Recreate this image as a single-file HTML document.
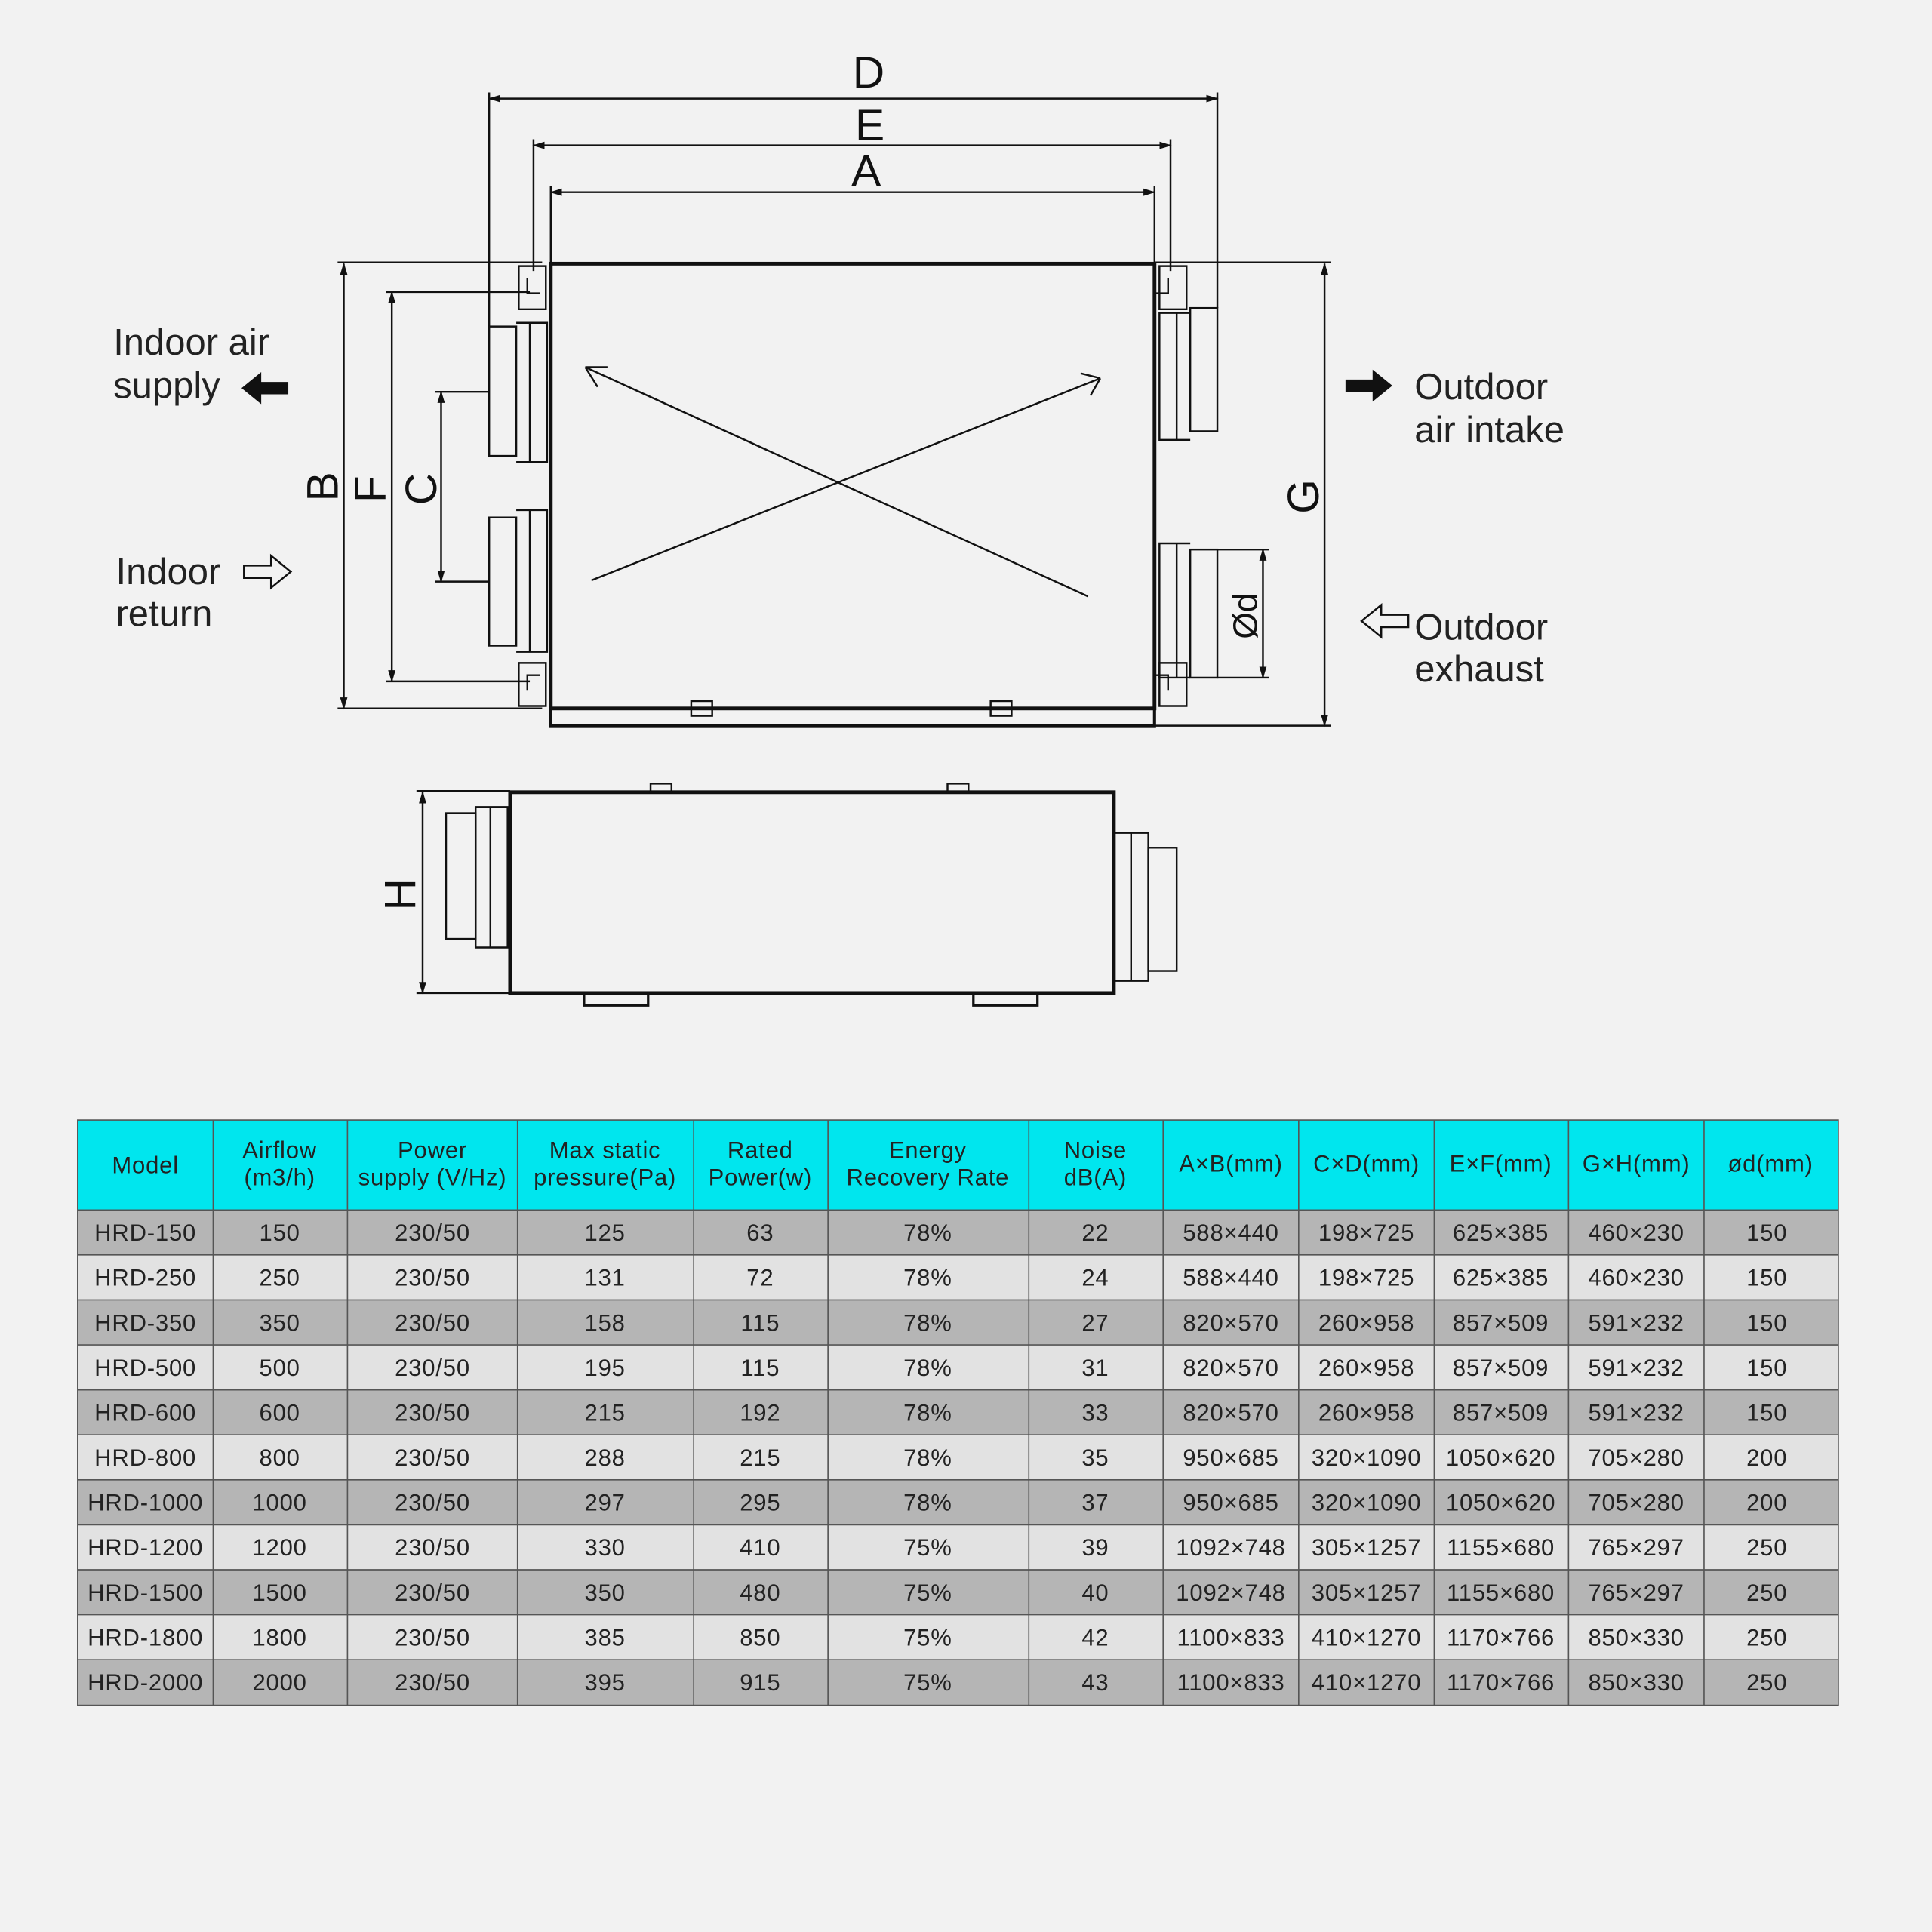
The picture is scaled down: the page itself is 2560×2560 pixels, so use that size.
<!DOCTYPE html>
<html><head><meta charset="utf-8"><style>
html,body{margin:0;padding:0;background:#f2f2f2}
svg{display:block}
</style></head><body>
<svg width="2560" height="2560" viewBox="0 0 1568 1568" xmlns="http://www.w3.org/2000/svg" font-family="Liberation Sans, sans-serif">
<rect width="1568" height="1568" fill="#f2f2f2"/>
<defs>
<marker id="ar" markerWidth="10" markerHeight="8" refX="9" refY="4" orient="auto" markerUnits="userSpaceOnUse"><path d="M0,1 L10,4 L0,7 Z" fill="#111"/></marker>
<marker id="al" markerWidth="10" markerHeight="8" refX="1" refY="4" orient="auto" markerUnits="userSpaceOnUse"><path d="M10,1 L0,4 L10,7 Z" fill="#111"/></marker>
</defs>
<g stroke="#111" fill="none" stroke-width="1.5">
<!-- top dims -->
<line x1="397" y1="80" x2="988" y2="80" marker-start="url(#al)" marker-end="url(#ar)"/>
<line x1="433" y1="118" x2="950" y2="118" marker-start="url(#al)" marker-end="url(#ar)"/>
<line x1="447" y1="156" x2="937" y2="156" marker-start="url(#al)" marker-end="url(#ar)"/>
<line x1="397" y1="75" x2="397" y2="265"/><line x1="988" y1="75" x2="988" y2="250"/>
<line x1="433" y1="113" x2="433" y2="220"/><line x1="950" y1="113" x2="950" y2="220"/>
<line x1="447" y1="151" x2="447" y2="214"/><line x1="937" y1="151" x2="937" y2="214"/>
<!-- main box -->
<rect x="447" y="214" width="490" height="361" stroke-width="3"/>
<rect x="447" y="575" width="490" height="14" stroke-width="2.5"/>
<rect x="561" y="569" width="17" height="12"/><rect x="804" y="569" width="17" height="12"/>
<line x1="475" y1="298" x2="883" y2="484"/><line x1="480" y1="471" x2="893" y2="307"/>
<path d="M475,298 l18,-0 M475,298 l10,16"/><path d="M893,307 l-16,-4 M893,307 l-8,14"/>
<!-- left dims -->
<line x1="279" y1="214" x2="279" y2="575" marker-start="url(#al)" marker-end="url(#ar)"/>
<line x1="274" y1="213" x2="440" y2="213"/><line x1="274" y1="575" x2="440" y2="575"/>
<line x1="318" y1="237" x2="318" y2="553" marker-start="url(#al)" marker-end="url(#ar)"/>
<line x1="313" y1="237" x2="430" y2="237"/><line x1="313" y1="553" x2="430" y2="553"/>
<line x1="358" y1="318" x2="358" y2="472" marker-start="url(#al)" marker-end="url(#ar)"/>
<line x1="353" y1="318" x2="397" y2="318"/><line x1="353" y1="472" x2="397" y2="472"/>
<!-- left ducts -->
<rect x="397" y="265" width="22" height="105"/><path d="M419,262 h25 v113 h-25"/><line x1="430" y1="262" x2="430" y2="375"/>
<rect x="397" y="420" width="22" height="104"/><path d="M419,414 h25 v115 h-25"/><line x1="430" y1="414" x2="430" y2="529"/>
<path d="M421,216 h22 v35 h-22 z M428,226 v12 h10 M421,538 h22 v35 h-22 z M428,560 v-12 h10"/>
<!-- right ducts -->
<rect x="966" y="250" width="22" height="100"/><path d="M966,254 h-25 v103 h25"/><line x1="955" y1="254" x2="955" y2="357"/>
<rect x="966" y="446" width="22" height="104"/><path d="M966,441 h-25 v109 h25"/><line x1="955" y1="441" x2="955" y2="550"/>
<path d="M941,216 h22 v35 h-22 z M948,226 v12 h-10 M941,538 h22 v35 h-22 z M948,560 v-12 h-10"/>
<line x1="1025" y1="446" x2="1025" y2="550" marker-start="url(#al)" marker-end="url(#ar)"/>
<line x1="988" y1="446" x2="1030" y2="446"/><line x1="988" y1="550" x2="1030" y2="550"/>
<line x1="1075" y1="214" x2="1075" y2="589" marker-start="url(#al)" marker-end="url(#ar)"/>
<line x1="937" y1="213" x2="1080" y2="213"/><line x1="937" y1="589" x2="1080" y2="589"/>
<!-- side view -->
<rect x="414" y="643" width="490" height="163" stroke-width="3"/>
<rect x="528" y="636" width="17" height="7"/><rect x="769" y="636" width="17" height="7"/>
<rect x="474" y="806" width="52" height="10" stroke-width="2"/><rect x="790" y="806" width="52" height="10" stroke-width="2"/>
<rect x="362" y="660" width="24" height="102"/><path d="M386,655 h26 v114 h-26 z"/><line x1="398" y1="655" x2="398" y2="769"/>
<rect x="932" y="688" width="23" height="100"/><path d="M904,676 h28 v120 h-28"/><line x1="918" y1="676" x2="918" y2="796"/>
<line x1="343" y1="643" x2="343" y2="806" marker-start="url(#al)" marker-end="url(#ar)"/>
<line x1="338" y1="642" x2="414" y2="642"/><line x1="338" y1="806" x2="414" y2="806"/>
<!-- arrows -->
<path d="M198,459 h22 v-8 l16,13 l-16,13 v-8 h-22 z"/>
<path d="M1143,499 h-22 v-8 l-16,13 l16,13 v-8 h22 z"/>
</g>
<path d="M234,310 h-22 v-8 l-16,13 l16,13 v-8 h22 z" fill="#111"/>
<path d="M1092,308 h22 v-8 l16,13 l-16,13 v-8 h-22 z" fill="#111"/>
<g fill="#111" font-size="36" text-anchor="middle">
<text x="705" y="71">D</text><text x="706" y="114">E</text><text x="703" y="151">A</text>
<text transform="translate(274,395) rotate(-90)">B</text>
<text transform="translate(313,397) rotate(-90)">F</text>
<text transform="translate(354,397) rotate(-90)">C</text>
<text transform="translate(1070,403) rotate(-90)">G</text>
<text transform="translate(337,726) rotate(-90)">H</text>
<text transform="translate(1020,500) rotate(-90)" font-size="28">Ød</text>
</g>
<g fill="#222" font-size="30">
<text x="92" y="288">Indoor air</text><text x="92" y="323">supply</text>
<text x="94" y="474">Indoor</text><text x="94" y="508">return</text>
<text x="1148" y="324">Outdoor</text><text x="1148" y="359">air intake</text>
<text x="1148" y="519">Outdoor</text><text x="1148" y="553">exhaust</text>
</g>
<!-- table -->
<rect x="63" y="909" width="1429" height="73" fill="#00e6ee"/>
<g id="rows">
<rect x="63" y="982" width="1429" height="36.5" fill="#b5b5b5"/>
<rect x="63" y="1018.5" width="1429" height="36.5" fill="#e2e2e2"/>
<rect x="63" y="1055" width="1429" height="36.5" fill="#b5b5b5"/>
<rect x="63" y="1091.5" width="1429" height="36.5" fill="#e2e2e2"/>
<rect x="63" y="1128" width="1429" height="36.5" fill="#b5b5b5"/>
<rect x="63" y="1164.5" width="1429" height="36.5" fill="#e2e2e2"/>
<rect x="63" y="1201" width="1429" height="36.5" fill="#b5b5b5"/>
<rect x="63" y="1237.5" width="1429" height="36.5" fill="#e2e2e2"/>
<rect x="63" y="1274" width="1429" height="36.5" fill="#b5b5b5"/>
<rect x="63" y="1310.5" width="1429" height="36.5" fill="#e2e2e2"/>
<rect x="63" y="1347" width="1429" height="37" fill="#b5b5b5"/>
</g>
<g stroke="#555" stroke-width="1">
<rect x="63" y="909" width="1429" height="475" fill="none"/>
<path d="M173,909V1384M282,909V1384M420,909V1384M563,909V1384M672,909V1384M835,909V1384M944,909V1384M1054,909V1384M1164,909V1384M1273,909V1384M1383,909V1384"/>
<path d="M63,982H1492M63,1018.5H1492M63,1055H1492M63,1091.5H1492M63,1128H1492M63,1164.5H1492M63,1201H1492M63,1237.5H1492M63,1274H1492M63,1310.5H1492M63,1347H1492"/>
</g>
<g fill="#222" font-size="19" text-anchor="middle" letter-spacing="0.5">
<text x="118" y="952">Model</text>
<text x="227" y="940">Airflow</text><text x="227" y="962">(m3/h)</text>
<text x="351" y="940">Power</text><text x="351" y="962">supply (V/Hz)</text>
<text x="491" y="940">Max static</text><text x="491" y="962">pressure(Pa)</text>
<text x="617" y="940">Rated</text><text x="617" y="962">Power(w)</text>
<text x="753" y="940">Energy</text><text x="753" y="962">Recovery Rate</text>
<text x="889" y="940">Noise</text><text x="889" y="962">dB(A)</text>
<text x="999" y="951">A×B(mm)</text><text x="1109" y="951">C×D(mm)</text>
<text x="1218" y="951">E×F(mm)</text><text x="1328" y="951">G×H(mm)</text><text x="1437" y="951">ød(mm)</text>
</g>
<g fill="#222" font-size="19" text-anchor="middle" letter-spacing="0.5">
<g transform="translate(0,1007)"><text x="118">HRD-150</text><text x="227">150</text><text x="351">230/50</text><text x="491">125</text><text x="617">63</text><text x="753">78%</text><text x="889">22</text><text x="999">588×440</text><text x="1109">198×725</text><text x="1218">625×385</text><text x="1328">460×230</text><text x="1434">150</text></g>
<g transform="translate(0,1043.5)"><text x="118">HRD-250</text><text x="227">250</text><text x="351">230/50</text><text x="491">131</text><text x="617">72</text><text x="753">78%</text><text x="889">24</text><text x="999">588×440</text><text x="1109">198×725</text><text x="1218">625×385</text><text x="1328">460×230</text><text x="1434">150</text></g>
<g transform="translate(0,1080)"><text x="118">HRD-350</text><text x="227">350</text><text x="351">230/50</text><text x="491">158</text><text x="617">115</text><text x="753">78%</text><text x="889">27</text><text x="999">820×570</text><text x="1109">260×958</text><text x="1218">857×509</text><text x="1328">591×232</text><text x="1434">150</text></g>
<g transform="translate(0,1116.5)"><text x="118">HRD-500</text><text x="227">500</text><text x="351">230/50</text><text x="491">195</text><text x="617">115</text><text x="753">78%</text><text x="889">31</text><text x="999">820×570</text><text x="1109">260×958</text><text x="1218">857×509</text><text x="1328">591×232</text><text x="1434">150</text></g>
<g transform="translate(0,1153)"><text x="118">HRD-600</text><text x="227">600</text><text x="351">230/50</text><text x="491">215</text><text x="617">192</text><text x="753">78%</text><text x="889">33</text><text x="999">820×570</text><text x="1109">260×958</text><text x="1218">857×509</text><text x="1328">591×232</text><text x="1434">150</text></g>
<g transform="translate(0,1189.5)"><text x="118">HRD-800</text><text x="227">800</text><text x="351">230/50</text><text x="491">288</text><text x="617">215</text><text x="753">78%</text><text x="889">35</text><text x="999">950×685</text><text x="1109">320×1090</text><text x="1218">1050×620</text><text x="1328">705×280</text><text x="1434">200</text></g>
<g transform="translate(0,1226)"><text x="118">HRD-1000</text><text x="227">1000</text><text x="351">230/50</text><text x="491">297</text><text x="617">295</text><text x="753">78%</text><text x="889">37</text><text x="999">950×685</text><text x="1109">320×1090</text><text x="1218">1050×620</text><text x="1328">705×280</text><text x="1434">200</text></g>
<g transform="translate(0,1262.5)"><text x="118">HRD-1200</text><text x="227">1200</text><text x="351">230/50</text><text x="491">330</text><text x="617">410</text><text x="753">75%</text><text x="889">39</text><text x="999">1092×748</text><text x="1109">305×1257</text><text x="1218">1155×680</text><text x="1328">765×297</text><text x="1434">250</text></g>
<g transform="translate(0,1299)"><text x="118">HRD-1500</text><text x="227">1500</text><text x="351">230/50</text><text x="491">350</text><text x="617">480</text><text x="753">75%</text><text x="889">40</text><text x="999">1092×748</text><text x="1109">305×1257</text><text x="1218">1155×680</text><text x="1328">765×297</text><text x="1434">250</text></g>
<g transform="translate(0,1335.5)"><text x="118">HRD-1800</text><text x="227">1800</text><text x="351">230/50</text><text x="491">385</text><text x="617">850</text><text x="753">75%</text><text x="889">42</text><text x="999">1100×833</text><text x="1109">410×1270</text><text x="1218">1170×766</text><text x="1328">850×330</text><text x="1434">250</text></g>
<g transform="translate(0,1372)"><text x="118">HRD-2000</text><text x="227">2000</text><text x="351">230/50</text><text x="491">395</text><text x="617">915</text><text x="753">75%</text><text x="889">43</text><text x="999">1100×833</text><text x="1109">410×1270</text><text x="1218">1170×766</text><text x="1328">850×330</text><text x="1434">250</text></g>
</g>
</svg>
</body></html>
